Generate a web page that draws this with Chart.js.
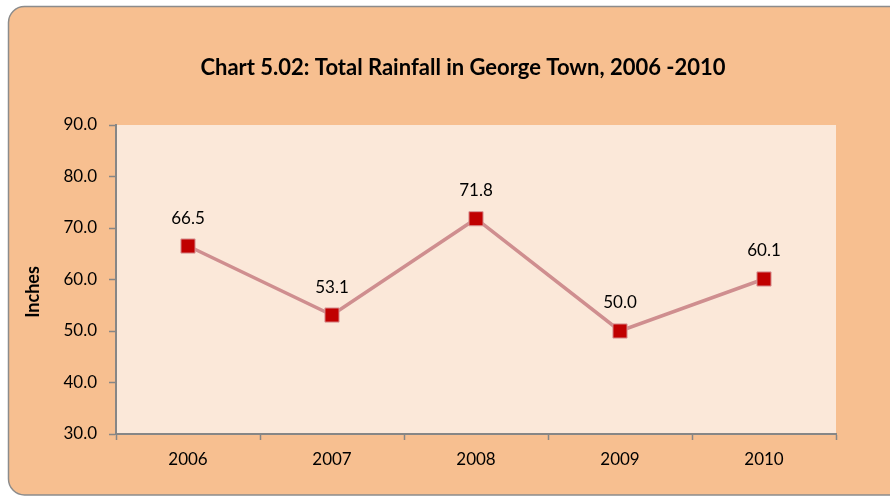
<!DOCTYPE html>
<html>
<head>
<meta charset="utf-8">
<script src="https://cdn.jsdelivr.net/npm/chart.js@4/dist/chart.umd.min.js"></script>
<style>
html,body{margin:0;padding:0;background:#ffffff;}
#wrap{width:890px;height:496px;position:relative;}
</style>
</head>
<body>
<div id="wrap"><canvas id="c" width="890" height="496"></canvas></div>
<script>
const years = ["2006", "2007", "2008", "2009", "2010"];
const rainfall = [66.5, 53.1, 71.8, 50.0, 60.1];
const chartTitle = "Chart 5.02: Total Rainfall in George Town, 2006 -2010";
const yAxisTitle = "Inches";

const FONT = "Lato, 'Open Sans', sans-serif";

const backgroundPlugin = {
  id: 'bgBox',
  beforeDraw(chart) {
    const ctx = chart.ctx;
    ctx.save();
    ctx.fillStyle = '#ffffff';
    ctx.fillRect(0, 0, chart.width, chart.height);
    const x = 8.5, y = 6.5, w = 900, h = 488.5, r = 16;
    ctx.beginPath();
    ctx.moveTo(x + r, y);
    ctx.lineTo(x + w - r, y);
    ctx.arcTo(x + w, y, x + w, y + r, r);
    ctx.lineTo(x + w, y + h - r);
    ctx.arcTo(x + w, y + h, x + w - r, y + h, r);
    ctx.lineTo(x + r, y + h);
    ctx.arcTo(x, y + h, x, y + h - r, r);
    ctx.lineTo(x, y + r);
    ctx.arcTo(x, y, x + r, y, r);
    ctx.closePath();
    ctx.fillStyle = '#F7BF90';
    ctx.fill();
    ctx.lineWidth = 1.5;
    ctx.strokeStyle = '#8C8C8C';
    ctx.stroke();
    const a = chart.chartArea;
    ctx.fillStyle = '#FBE8D9';
    ctx.fillRect(a.left, a.top, a.right - a.left, a.bottom - a.top);
    // title
    ctx.fillStyle = '#000000';
    ctx.font = "bold 22px " + FONT;
    ctx.textAlign = 'center';
    ctx.textBaseline = 'middle';
    ctx.fillText(chartTitle, 463, 68);
    // y axis title
    ctx.translate(33, 292);
    ctx.rotate(-Math.PI / 2);
    ctx.font = "bold 18px " + FONT;
    ctx.fillText(yAxisTitle, 0, 0);
    ctx.restore();
  }
};

const labelPlugin = {
  id: 'valueLabels',
  afterDatasetsDraw(chart) {
    const ctx = chart.ctx;
    const meta = chart.getDatasetMeta(0);
    ctx.save();
    ctx.fillStyle = '#000000';
    ctx.font = "17px " + FONT;
    ctx.textAlign = 'center';
    ctx.textBaseline = 'middle';
    meta.data.forEach((pt, i) => {
      ctx.fillText(rainfall[i].toFixed(1), pt.x, pt.y - 28);
    });
    ctx.restore();
  }
};

new Chart(document.getElementById('c'), {
  type: 'line',
  data: {
    labels: years,
    datasets: [{
      data: rainfall,
      borderColor: '#CF8E8F',
      borderWidth: 3.5,
      pointStyle: 'rect',
      pointRadius: 10,
      pointHoverRadius: 10,
      pointBackgroundColor: '#C00000',
      pointBorderColor: '#D99A9B',
      pointBorderWidth: 1,
      tension: 0,
      fill: false
    }]
  },
  options: {
    responsive: false,
    animation: false,
    devicePixelRatio: 1,
    layout: { padding: { left: 0, top: 125, right: 54, bottom: 0 } },
    plugins: {
      legend: { display: false },
      title: { display: false },
      tooltip: { enabled: false }
    },
    scales: {
      x: {
        type: 'category',
        offset: true,
        grid: {
          offset: true,
          drawOnChartArea: false,
          drawTicks: true,
          tickLength: 6,
          color: '#868686',
          tickWidth: 1.5
        },
        border: { display: true, color: '#868686', width: 2 },
        ticks: {
          color: '#000000',
          font: { family: FONT, size: 17 },
          padding: 9,
          maxRotation: 0
        },
        afterFit(s) { s.height = 62; }
      },
      y: {
        min: 30,
        max: 90,
        grid: {
          drawOnChartArea: false,
          drawTicks: true,
          tickLength: 7,
          color: '#868686',
          tickWidth: 1.5
        },
        border: { display: true, color: '#868686', width: 2 },
        ticks: {
          stepSize: 10,
          color: '#000000',
          font: { family: FONT, size: 17 },
          padding: 12,
          callback: v => Number(v).toFixed(1)
        },
        afterFit(s) { s.width = 116; }
      }
    }
  },
  plugins: [backgroundPlugin, labelPlugin]
});
</script>
</body>
</html>
